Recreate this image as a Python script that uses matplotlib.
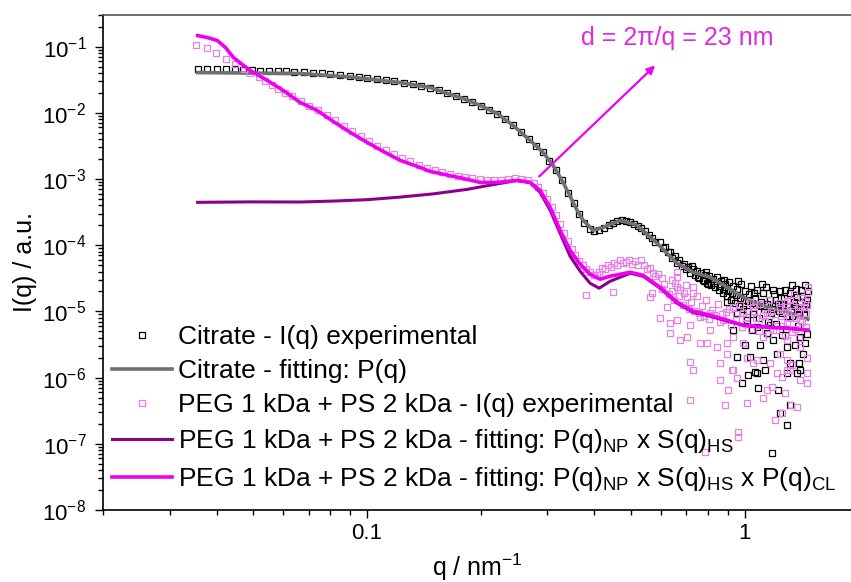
import matplotlib
matplotlib.use('Agg')
import matplotlib.pyplot as plt
from matplotlib.ticker import FixedLocator, FuncFormatter, LogLocator, NullFormatter

plt.rcParams['font.family'] = ['Liberation Sans', 'DejaVu Sans']
plt.rcParams['mathtext.default'] = 'regular'

# ---- Citrate: experimental I(q) ----
cit_q = [0.0356, 0.0378, 0.0400, 0.0423, 0.0446, 0.0470, 0.0495, 0.052, 0.055, 0.058,
         0.061, 0.064, 0.068, 0.072, 0.076, 0.080, 0.085, 0.090, 0.095, 0.100,
         0.106, 0.112, 0.118, 0.125, 0.132, 0.139, 0.147, 0.155, 0.163, 0.172,
         0.181, 0.190, 0.200, 0.210, 0.221, 0.232, 0.244, 0.256, 0.268, 0.280,
         0.292, 0.304, 0.316, 0.328, 0.340, 0.352, 0.364, 0.376, 0.388, 0.400,
         0.412, 0.424, 0.436, 0.448, 0.460, 0.472, 0.484, 0.496, 0.508, 0.520,
         0.532, 0.544, 0.556, 0.568, 0.580,
         0.597, 0.606, 0.615, 0.625, 0.634, 0.643, 0.652, 0.662, 0.671, 0.680,
         0.690, 0.699, 0.708, 0.718, 0.727, 0.737, 0.746, 0.756, 0.765, 0.775,
         0.784, 0.794, 0.804, 0.814, 0.824, 0.834, 0.844, 0.854, 0.865, 0.875,
         0.886, 0.897, 0.908, 0.919, 0.930, 0.941, 0.953, 0.964, 0.976, 0.988,
         1.000, 1.012, 1.024, 1.036, 1.049, 1.062, 1.075, 1.088, 1.101, 1.114,
         1.128, 1.141, 1.155, 1.169, 1.183, 1.198, 1.212, 1.227, 1.242, 1.257,
         1.272, 1.288, 1.303, 1.319, 1.335, 1.351, 1.368, 1.384, 1.401, 1.418,
         1.435, 1.452, 1.469, 1.460,
         0.898, 0.954, 1.014, 1.078, 1.145, 1.188, 1.294, 1.400, 1.444, 0.954,
         1.032, 1.118, 1.217, 1.318, 1.426, 1.078, 1.294, 1.400, 0.983, 1.020,
         1.064, 1.084, 1.131, 1.225, 1.240, 1.294, 1.318, 1.375, 1.392, 1.181,
         1.002, 1.097, 1.255, 1.358, 0.931, 1.045, 1.166,
         0.752, 0.779, 0.801, 0.829, 0.858, 0.881, 0.903, 0.925, 0.947, 0.969,
         0.994, 1.018, 1.043, 1.068, 1.094, 1.121, 1.148, 1.176, 1.205, 1.234,
         1.264, 1.295, 1.326, 1.358, 1.391, 1.425, 1.458, 1.446, 1.410, 1.372,
         1.330, 1.280, 1.250, 1.190, 1.107, 1.056, 0.960, 0.880, 0.790, 0.723]
cit_I = [0.046, 0.046, 0.0458, 0.0458, 0.0455, 0.0450, 0.0440, 0.0432, 0.0430, 0.0425,
         0.0422, 0.0415, 0.0410, 0.0402, 0.0395, 0.0385, 0.0372, 0.0360, 0.0348, 0.0337,
         0.0322, 0.0310, 0.0298, 0.0284, 0.0270, 0.0256, 0.0240, 0.0220, 0.0198, 0.0180,
         0.0162, 0.0145, 0.0128, 0.0112, 0.0097, 0.0081, 0.0065, 0.0051, 0.0040, 0.0031,
         0.00252, 0.00185, 0.00138, 0.00095, 0.00062, 0.00043, 0.00030, 0.00022, 0.000175, 0.000165,
         0.00017, 0.000185, 0.000205, 0.00022, 0.000235, 0.00024, 0.00023, 0.000225, 0.00021, 0.000198,
         0.000182, 0.000165, 0.000145, 0.000128, 0.000112,
         1.1e-4, 9.0e-5, 9.5e-5, 7.8e-5, 8.0e-5, 6.5e-5, 6.9e-5, 5.4e-5, 6.0e-5, 4.9e-5,
         5.2e-5, 4.3e-5, 4.7e-5, 3.8e-5, 4.4e-5, 3.5e-5, 4.1e-5, 3.2e-5, 3.8e-5, 3.0e-5,
         3.6e-5, 2.7e-5, 3.4e-5, 2.5e-5, 3.1e-5, 2.3e-5, 3.3e-5, 2.1e-5, 2.9e-5, 1.9e-5,
         2.6e-5, 1.7e-5, 2.8e-5, 1.5e-5, 2.4e-5, 1.35e-5, 2.2e-5, 1.2e-5, 2.6e-5, 1.1e-5,
         2.0e-5, 1.0e-5, 1.8e-5, 2.4e-5, 9.0e-6, 1.6e-5, 2.1e-5, 8.0e-6, 1.4e-5, 1.9e-5,
         1.2e-5, 2.3e-5, 7.0e-6, 1.5e-5, 1.1e-5, 1.8e-5, 6.5e-6, 1.3e-5, 2.0e-5, 9.5e-6,
         1.6e-5, 5.5e-6, 1.2e-5, 1.9e-5, 8.5e-6, 1.4e-5, 2.2e-5, 6.0e-6, 1.1e-5, 1.7e-5,
         9.0e-6, 1.3e-5, 2.0e-5, 4.5e-6,
         1.38e-5, 9.4e-6, 7.4e-6, 5.8e-6, 4.7e-6, 3.7e-6, 2.9e-6, 4.1e-6, 3.3e-6, 2.04e-6,
         2.04e-6, 1.84e-6, 2.3e-6, 1.65e-6, 2.3e-6, 1.17e-6, 1.17e-6, 1.3e-6, 8.3e-7, 1.09e-6,
         1.21e-6, 6.9e-7, 1.3e-6, 6.5e-7, 2.9e-7, 1.9e-7, 3.9e-7, 1.17e-6, 1.65e-6, 7.3e-8,
         3.1e-6, 3.1e-6, 4.4e-6, 3.1e-6, 5.2e-6, 5.2e-6, 6.2e-6,
         3.3e-5, 2.9e-5, 2.6e-5, 2.7e-5, 2.4e-5, 2.2e-5, 2.0e-5, 1.9e-5, 1.75e-5, 1.6e-5,
         1.5e-5, 1.45e-5, 1.35e-5, 1.25e-5, 1.2e-5, 1.1e-5, 1.3e-5, 9.5e-6, 1.2e-5, 1.0e-5,
         1.25e-5, 8.5e-6, 1.05e-5, 1.2e-5, 9.0e-6, 1.1e-5, 1.5e-5, 2.5e-5, 2.1e-5, 1.65e-5,
         2.5e-5, 2.1e-5, 1.6e-5, 2.1e-5, 2.6e-5, 1.9e-5, 2.9e-5, 3.0e-5, 3.9e-5, 4.9e-5]

# ---- Citrate: fit P(q) ----
cit_fit_q = [0.0356, 0.0491, 0.0666, 0.0903, 0.1224, 0.147, 0.163, 0.1797, 0.1993, 0.221,
             0.2436, 0.2702, 0.2925, 0.3109, 0.3304, 0.3598, 0.3733, 0.3967, 0.4216, 0.4675,
             0.5186, 0.5857, 0.6615, 0.7295, 0.8091, 0.8972, 0.989, 1.145, 1.293, 1.469]
cit_fit_I = [0.0405, 0.0398, 0.0392, 0.0347, 0.0286, 0.0241, 0.0196, 0.0164, 0.0129, 0.00976,
             0.00643, 0.00382, 0.00252, 0.00160, 8.88e-4, 3.36e-4, 2.37e-4, 1.68e-4, 1.86e-4, 2.37e-4,
             2.0e-4, 1.07e-4, 5.33e-5, 3.9e-5, 3.28e-5, 2.32e-5, 1.64e-5, 1.16e-5, 9.72e-6, 7.63e-6]

# ---- PEG 1 kDa + PS 2 kDa: experimental I(q) ----
peg_q = [0.0353, 0.0376, 0.0399, 0.0422, 0.0446, 0.0471, 0.0491, 0.0516, 0.0538, 0.0561,
         0.0582, 0.0608, 0.0633, 0.0668, 0.0704, 0.0742, 0.0782, 0.0824, 0.0868, 0.0914,
         0.0962, 0.101, 0.106, 0.112, 0.118, 0.124, 0.130, 0.137, 0.144, 0.151,
         0.158, 0.166, 0.174, 0.182, 0.190, 0.199, 0.208, 0.217, 0.226, 0.236,
         0.246, 0.256, 0.266, 0.276, 0.284, 0.292, 0.300, 0.308, 0.316, 0.324,
         0.332, 0.340, 0.348, 0.356, 0.364, 0.372, 0.380, 0.389, 0.398, 0.407,
         0.410, 0.418, 0.426, 0.434, 0.442, 0.450, 0.458, 0.466, 0.475, 0.484,
         0.493, 0.502, 0.511, 0.520, 0.530, 0.540, 0.550, 0.560, 0.570, 0.580,
         0.590, 0.380, 0.448, 0.561, 0.568,
         0.604, 0.662, 0.703, 0.623, 0.597, 0.662, 0.634, 0.674, 0.703, 0.761,
         0.795, 0.845, 0.898, 0.931, 0.989, 0.761, 0.809, 0.876, 0.931, 0.989,
         1.052, 1.145, 1.240, 1.318, 1.400, 1.461, 1.469, 1.400, 1.294, 1.188,
         1.118, 1.294, 1.400, 1.461, 1.240, 1.166, 1.078, 1.014, 0.898, 0.860,
         0.931, 0.716, 0.730, 1.318, 1.461, 0.809, 0.716, 0.634, 0.674, 0.730,
         0.662, 0.716, 0.860, 0.903, 0.887, 0.925, 0.954, 1.014, 1.052, 1.118,
         1.145, 1.181, 1.203, 1.255, 1.278, 1.334, 1.375, 1.400, 1.461, 1.294,
         1.255, 1.217, 0.960, 0.960, 0.785, 1.326, 1.294,
         0.612, 0.640, 0.655, 0.690, 0.720, 0.745, 0.770, 0.790, 0.820, 0.850,
         0.870, 0.910, 0.950, 0.970, 1.010, 1.030, 1.070, 1.100, 1.130, 1.160,
         1.200, 1.230, 1.260, 1.280, 1.310, 1.340, 1.360, 1.380, 1.420, 1.440,
         1.450,
         0.603, 0.628, 0.648, 0.668, 0.685, 0.710, 0.735, 0.758, 0.780, 0.805,
         0.830, 0.862, 0.890, 0.920, 0.945, 0.980, 1.005, 1.040, 1.060, 1.090,
         1.120, 1.150, 1.175, 1.210, 1.245, 1.275, 1.300, 1.330, 1.365, 1.395,
         1.430, 1.455, 1.465, 1.415, 1.350, 1.290, 0.700, 0.730, 0.640, 0.660]
peg_I = [0.107, 0.0966, 0.0812, 0.0659, 0.0554, 0.0466, 0.0405, 0.0353, 0.0307, 0.0267,
         0.0225, 0.0196, 0.0178, 0.0150, 0.0127, 0.0110, 0.0093, 0.0077, 0.0064, 0.0053,
         0.0044, 0.0037, 0.0032, 0.0027, 0.00235, 0.0021, 0.00185, 0.00165, 0.00148, 0.00136,
         0.00126, 0.00118, 0.00111, 0.00106, 0.00102, 0.00099, 0.00097, 0.00096, 0.00098, 0.00100,
         0.00102, 0.00099, 0.00095, 8.6e-4, 7.6e-4, 6.2e-4, 4.9e-4, 3.8e-4, 2.9e-4, 2.1e-4,
         1.55e-4, 1.15e-4, 8.8e-5, 7.0e-5, 5.8e-5, 5.0e-5, 4.4e-5, 3.9e-5, 3.6e-5, 3.6e-5,
         4.0e-5, 4.6e-5, 4.3e-5, 5.0e-5, 4.7e-5, 5.4e-5, 5.0e-5, 5.9e-5, 5.3e-5, 5.6e-5,
         6.0e-5, 5.2e-5, 5.7e-5, 5.0e-5, 5.9e-5, 5.1e-5, 4.3e-5, 4.6e-5, 3.8e-5, 3.4e-5,
         3.7e-5, 1.75e-5, 1.95e-5, 1.64e-5, 1.88e-5,
         3.2e-5, 2.3e-5, 1.64e-5, 1.16e-5, 7.9e-6, 7.4e-6, 4.7e-6, 3.7e-6, 4.1e-6, 3.3e-6,
         3.3e-6, 2.9e-6, 3.3e-6, 4.1e-6, 3.3e-6, 8.2e-6, 9.4e-6, 7.4e-6, 1.16e-5, 9.4e-6,
         1.16e-5, 9.4e-6, 1.16e-5, 1.48e-5, 1.16e-5, 1.88e-5, 2.3e-5, 7.4e-6, 6.6e-6, 5.2e-6,
         4.1e-6, 3.7e-6, 2.9e-6, 2.0e-6, 2.3e-6, 1.65e-6, 1.84e-6, 2.0e-6, 2.3e-6, 1.65e-6,
         1.3e-6, 1.71e-6, 1.3e-6, 1.3e-6, 1.17e-6, 5.2e-6, 6.2e-6, 6.6e-6, 2.1e-5, 2.3e-5,
         3.3e-5, 4.6e-7, 9.2e-7, 6.5e-7, 3.9e-7, 1.3e-6, 9.8e-7, 4.2e-7, 1.65e-6, 5.0e-7,
         6.5e-7, 7.2e-7, 2.3e-7, 2.9e-7, 5.8e-7, 1.54e-6, 3.6e-7, 9.2e-7, 8.3e-7, 1.3e-6,
         1.02e-6, 1.17e-6, 1.5e-7, 1.27e-7, 7.5e-8, 3.9e-7, 1.84e-6,
         2.6e-5, 2.0e-5, 2.7e-5, 1.9e-5, 1.4e-5, 1.7e-5, 1.2e-5, 1.5e-5, 1.05e-5, 1.3e-5,
         9.0e-6, 1.1e-5, 7.5e-6, 1.25e-5, 6.5e-6, 1.4e-5, 8.0e-6, 1.3e-5, 6.8e-6, 1.5e-5,
         7.5e-6, 1.35e-5, 6.0e-6, 1.05e-5, 8.0e-6, 1.25e-5, 5.5e-6, 1.0e-5, 7.0e-6, 1.45e-5,
         9.5e-6,
         2.2e-5, 1.8e-5, 1.5e-5, 1.7e-5, 1.25e-5, 1.1e-5, 1.0e-5, 9.5e-6, 8.5e-6, 7.8e-6,
         8.8e-6, 6.8e-6, 9.8e-6, 6.3e-6, 9.0e-6, 5.8e-6, 8.2e-6, 5.4e-6, 1.0e-5, 5.0e-6,
         8.8e-6, 4.6e-6, 1.0e-5, 5.2e-6, 8.6e-6, 4.3e-6, 9.8e-6, 4.9e-6, 8.0e-6, 4.0e-6,
         1.15e-5, 5.8e-6, 1.25e-5, 1.6e-5, 1.8e-5, 1.45e-5, 2.5e-5, 1.9e-5, 3.0e-5, 4.0e-5]

# ---- PEG fits ----
hs_q = [0.0356, 0.0491, 0.0666, 0.0814, 0.1001, 0.1224, 0.1497, 0.1841, 0.2030, 0.2251,
        0.2496, 0.2702, 0.2872, 0.3053, 0.3244, 0.3448, 0.3665, 0.3895, 0.4114, 0.4398,
        0.4969, 0.5378, 0.5966, 0.6615, 0.7295, 0.8091, 0.8972, 0.989, 1.145, 1.293, 1.469]
hs_I = [4.44e-4, 4.51e-4, 4.49e-4, 4.64e-4, 4.87e-4, 5.33e-4, 5.96e-4, 6.97e-4, 7.73e-4, 8.58e-4,
        9.53e-4, 8.88e-4, 6.28e-4, 3.36e-4, 1.51e-4, 6.80e-5, 4.04e-5, 2.66e-5, 2.24e-5, 2.85e-5,
        3.77e-5, 3.40e-5, 2.24e-5, 1.33e-5, 9.72e-6, 8.47e-6, 7.12e-6, 6.19e-6, 5.78e-6, 5.58e-6, 5.20e-6]

cl_q = [0.0356, 0.0378, 0.0402, 0.0422, 0.0443, 0.0465, 0.0491, 0.0545, 0.0600, 0.0666,
        0.0738, 0.0814, 0.0903, 0.1001, 0.1104, 0.1224, 0.1358, 0.147, 0.1797, 0.1993,
        0.221, 0.2496, 0.2702, 0.2872, 0.3053, 0.3244, 0.3448, 0.3665, 0.3895, 0.4139,
        0.4398, 0.4969, 0.5378, 0.5966, 0.6615, 0.7295, 0.8091, 0.8972, 0.989, 1.145,
        1.293, 1.469]
cl_I = [0.1466, 0.137, 0.1231, 0.0966, 0.0683, 0.0548, 0.04345, 0.0307, 0.0217, 0.01429,
        0.01083, 0.00739, 0.00505, 0.00356, 0.00261, 0.00191, 0.00155, 0.0013, 0.00102, 8.88e-4,
        8.88e-4, 9.53e-4, 8.88e-4, 6.73e-4, 3.73e-4, 1.68e-4, 8.38e-5, 5.15e-5, 3.64e-5, 3.06e-5,
        3.40e-5, 3.90e-5, 3.52e-5, 2.32e-5, 1.38e-5, 1.01e-5, 8.77e-6, 7.37e-6, 6.19e-6, 5.78e-6,
        5.58e-6, 5.20e-6]

peg_label = 'PEG 1 kDa + PS 2 kDa - '
labels = ['Citrate - I(q) experimental',
          'Citrate - fitting: P(q)',
          peg_label + 'I(q) experimental',
          peg_label + 'fitting: $P(q)_{NP}$ x $S(q)_{HS}$',
          peg_label + 'fitting: $P(q)_{NP}$ x $S(q)_{HS}$ x $P(q)_{CL}$']

c_violet  = '#E680E6'
c_purple  = '#8B008B'
c_magenta = '#F000F0'
c_grey    = '#707070'

fig = plt.figure(figsize=(8.51, 5.82), dpi=100)
ax  = fig.add_axes([103/851, 1 - 510/582, 748/851, 495/582])

ax.plot(cit_q, cit_I, ls='none', marker='s', ms=5, mfc='none', mec='black', mew=0.9,
        label=labels[0], zorder=2)
ax.plot(cit_fit_q, cit_fit_I, color=c_grey, lw=2.6, label=labels[1], zorder=3)
ax.plot(peg_q, peg_I, ls='none', marker='s', ms=5, mfc='none', mec=c_violet, mew=0.9,
        label=labels[2], zorder=4)
ax.plot(hs_q, hs_I, color=c_purple, lw=2.2, label=labels[3], zorder=5)
ax.plot(cl_q, cl_I, color=c_magenta, lw=2.6, label=labels[4], zorder=6)

ax.set_xscale('log')
ax.set_yscale('log')
ax.set_xlim(0.02, 1.91)
ax.set_ylim(1e-8, 0.3)

ax.xaxis.set_major_locator(FixedLocator([0.1, 1]))
ax.xaxis.set_major_formatter(FuncFormatter(lambda v, _: f'{v:g}'))
ax.xaxis.set_minor_locator(LogLocator(base=10, subs=(2, 3, 4, 5, 6, 7, 8, 9), numticks=20))
ax.xaxis.set_minor_formatter(NullFormatter())
ax.yaxis.set_major_locator(LogLocator(base=10, numticks=20))
ax.yaxis.set_minor_locator(LogLocator(base=10, subs=(2, 3, 4, 5, 6, 7, 8, 9), numticks=20))
ax.yaxis.set_minor_formatter(NullFormatter())

ax.tick_params(which='both', direction='out', top=False, right=False, width=1, labelsize=16)
ax.tick_params(which='major', length=6)
ax.tick_params(which='minor', length=3.5)
ax.tick_params(axis='y', pad=6)

ax.spines['right'].set_visible(False)
ax.spines['top'].set_color('#555555')
for s in ['left', 'bottom', 'top']:
    ax.spines[s].set_linewidth(1.2)

ax.set_xlabel('q / nm$^{-1}$', fontsize=18, labelpad=5)
ax.set_ylabel('I(q) / a.u.', fontsize=18, labelpad=4)

ax.annotate('', xy=(0.586, 0.0554), xytext=(0.282, 0.00102),
            arrowprops=dict(arrowstyle='-|>', color=c_magenta, lw=1.6, mutation_scale=12),
            zorder=7)
ax.text(0.662, 0.135, 'd = 2π/q = 23 nm', color='#E028E0', fontsize=18,
        ha='center', va='center')

ax.legend(loc='lower left', bbox_to_anchor=(9/748, 0.034), frameon=False, fontsize=19,
          numpoints=1, handlelength=2.27, handletextpad=0.23, labelspacing=0.38,
          borderaxespad=0, borderpad=0)

fig.savefig('out.png', dpi=100)
